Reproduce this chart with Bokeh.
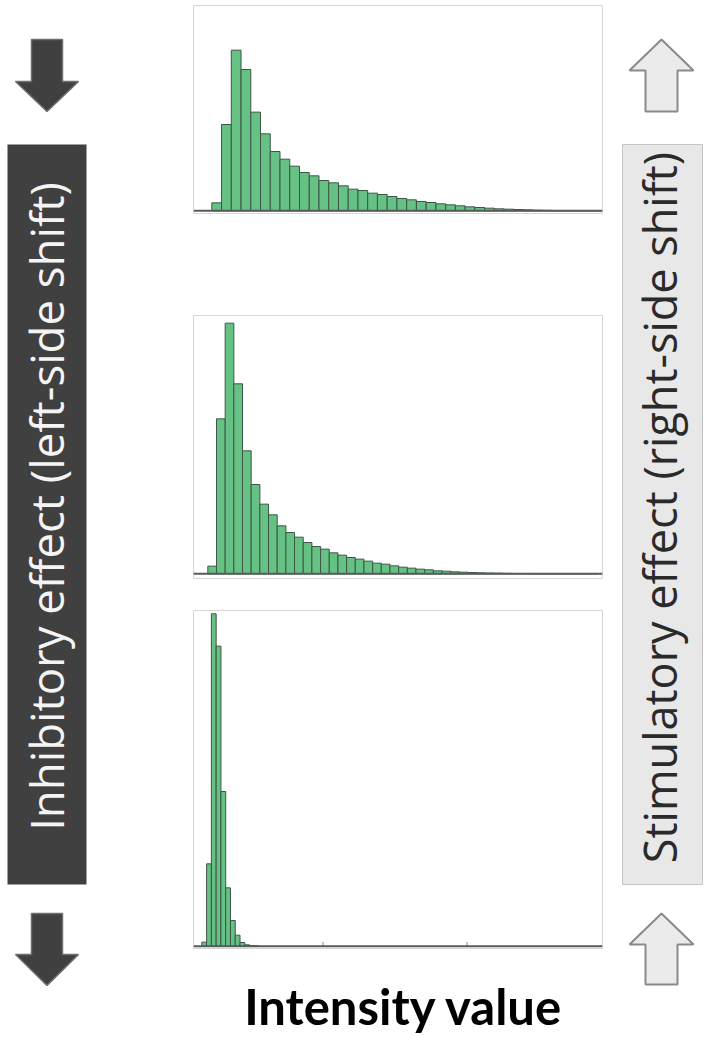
#!/usr/bin/env python3

import numpy as np
from bokeh.core.properties import value
from bokeh.embed import file_html
from bokeh.layouts import column, row
from bokeh.models import Range1d, Span
from bokeh.plotting import figure
from bokeh.resources import INLINE

# histogram counts per bin (arbitrary units), one list per panel
counts_top = [24, 259, 482, 424, 296, 231, 178, 155, 134, 115, 105, 91, 84, 75,
              65, 61, 53, 49, 43, 37, 33, 28, 25, 21, 18, 15, 12, 10, 8, 6, 5,
              4, 3, 2, 1.5, 1, 1, 0.5, 0.5, 0.5]
counts_mid = [23, 465, 752, 570, 369, 268, 209, 177, 144, 124, 110, 94, 82, 74,
              63, 56, 49, 44, 38, 32, 29, 24, 20, 17, 14, 12, 9, 8, 6, 5, 4, 3,
              2.5, 2, 1.5, 1, 1, 0.5, 0.5, 0.5, 0.5, 0.5, 0.5, 0.5, 0.5]
counts_low = [12, 247, 997, 900, 464, 175, 77, 33, 11, 4, 1.5, 0.5]

ticks_low = [25.4, 55.6]

left_label = "Inhibitory effect (left-side shift)"
right_label = "Stimulatory effect (right-side shift)"
x_label = "Intensity value"

BAR_FILL = "#66c284"
BAR_LINE = "#3d5544"
H = 1036


def arrow(xc, tip, base, tail, shaft_half, head_half):
    xs = [xc, xc + head_half, xc + shaft_half, xc + shaft_half,
          xc - shaft_half, xc - shaft_half, xc - head_half]
    ys = [tip, base, base, tail, tail, base, base]
    return xs, ys


def canvas(width, height, x0, x1, y0, y1):
    p = figure(
        width=width,
        height=height,
        x_range=Range1d(x0, x1),
        y_range=Range1d(y1, y0),
        toolbar_location=None,
        output_backend="svg",
        x_axis_location=None,
        y_axis_location=None,
        min_border=0,
        outline_line_color=None,
    )
    p.grid.visible = False
    return p


def hist_panel(counts, x_range, y_range, height, border_top, border_bottom):
    p = figure(
        width=420,
        height=height,
        x_range=x_range,
        y_range=y_range,
        toolbar_location=None,
        output_backend="svg",
        x_axis_location=None,
        y_axis_location=None,
        min_border=0,
        min_border_left=3,
        min_border_right=8,
        min_border_top=border_top,
        min_border_bottom=border_bottom,
        outline_line_color="#d6d6d6",
        outline_line_width=1,
    )
    p.grid.visible = False
    centers = np.arange(len(counts)) + 0.5
    p.vbar(x=centers, width=1, top=counts, bottom=0,
           fill_color=BAR_FILL, line_color=BAR_LINE, line_width=1)
    p.add_layout(Span(location=0, dimension="width", line_color="#5a5a5a", line_width=2))
    return p


# left side: dark arrows and box
p_left = canvas(190, H, 0, 190, 0, H)
p_left.quad(left=7, right=86, top=144, bottom=884, fill_color="#404040", line_color=None)
for tip, base, tail in [(111, 81, 39), (985, 954, 913)]:
    xs, ys = arrow(46.5, tip, base, tail, 15.5, 31.5)
    p_left.patch(xs, ys, fill_color="#404040", line_color="#6e6e6e", line_width=1.5)
p_left.text(x=[45], y=[506], text=[left_label], angle=np.pi / 2,
            text_align="center", text_baseline="middle",
            text_font=value("Open Sans"), text_font_size="45.5px", text_color="#f4f4f4")

# right side: light arrows and box
p_right = canvas(97, H, 610, 707, 0, H)
p_right.quad(left=622, right=702, top=144, bottom=884, fill_color="#e8e8e8",
             line_color="#c4c4c4", line_width=1)
for tip, base, tail in [(39, 70, 111), (913, 944, 984)]:
    xs, ys = arrow(661, tip, base, tail, 16, 32)
    p_right.patch(xs, ys, fill_color="#ebebeb", line_color="#8a8a8a", line_width=2)
p_right.text(x=[659], y=[507], text=[right_label], angle=np.pi / 2,
             text_align="center", text_baseline="middle",
             text_font=value("Open Sans"), text_font_size="45px", text_color="#2a2a2a")

# histograms (y units: bar height in 1/3 px)
h1 = hist_panel(counts_top, Range1d(-1.88, 40.1), Range1d(-8, 616), 315, 5, 102)
h2 = hist_panel(counts_mid, Range1d(-1.65, 45.5), Range1d(-14, 775), 295, 0, 32)
h3 = hist_panel(counts_low, Range1d(-1.75, 84.0), Range1d(-7, 1007), 350, 0, 12)
h3.segment(x0=ticks_low, x1=ticks_low, y0=0, y1=13, line_color="#8a8a8a", line_width=1)

# x label
p_lab = canvas(420, 76, 190, 610, 960, H)
p_lab.text(x=[406], y=[1005], text=[x_label], text_align="center",
           text_baseline="middle", text_font=value("Lato"),
           text_font_style="bold", text_font_size="49px", text_color="black")

layout = row(p_left, column(h1, h2, h3, p_lab, spacing=0), p_right, spacing=0)

open("out.html", "w").write(file_html(layout, INLINE))
